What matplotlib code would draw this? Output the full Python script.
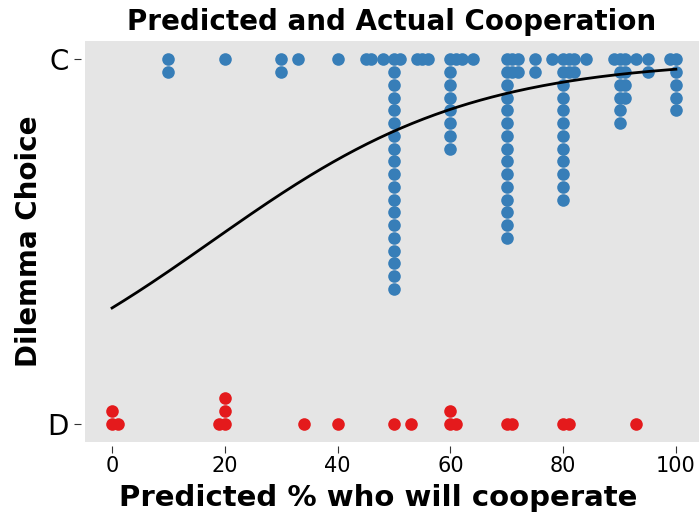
import numpy as np
import matplotlib.pyplot as plt

# predicted % cooperating, and how many people gave that guess
coop_pred = [10, 20, 30, 33, 40, 45, 46, 48, 50, 51, 54, 55, 56, 60, 61, 62, 64,
             70, 71, 72, 75, 78, 80, 81, 82, 84, 89, 90, 91, 93, 95, 99, 100]
coop_count = [2, 1, 2, 1, 1, 1, 1, 1, 19, 1, 1, 1, 1, 8, 1, 1, 1,
              15, 2, 2, 2, 1, 12, 2, 2, 1, 1, 6, 4, 1, 2, 1, 5]
defect_pred = [0, 1, 19, 20, 34, 40, 50, 53, 60, 61, 70, 71, 80, 81, 93]
defect_count = [2, 1, 1, 3, 1, 1, 1, 1, 2, 1, 1, 1, 1, 1, 1]

step = 0.035  # vertical stacking of repeated guesses

"""Expand to individual observations"""
xc, yc, xd, yd = [], [], [], []
for v, n in zip(coop_pred, coop_count):
    for k in range(n):
        xc.append(v)
        yc.append(1 - k * step)
for v, n in zip(defect_pred, defect_count):
    for k in range(n):
        xd.append(v)
        yd.append(0 + k * step)

"""Logistic regression fit (Newton-Raphson)"""
x_all = np.array(xc + xd, dtype=float)
y_all = np.array([1] * len(xc) + [0] * len(xd), dtype=float)
X = np.column_stack([np.ones_like(x_all), x_all])
beta = np.zeros(2)
for i in range(50):
    p = 1 / (1 + np.exp(-X @ beta))
    W = p * (1 - p)
    H = X.T @ (X * W[:, None])
    g = X.T @ (y_all - p)
    beta = beta + np.linalg.solve(H, g)
xs = np.linspace(0, 100, 200)
ys = 1 / (1 + np.exp(-(beta[0] + beta[1] * xs)))

"""Plot"""
fig = plt.figure(figsize=(6.99, 5.16), dpi=100)
ax = fig.add_axes([85 / 699, 1 - 442 / 516, 1 - 85 / 699, 401 / 516])
ax.set_facecolor("#e5e5e5")
ax.scatter(xc, yc, s=82, color="#377eb8", linewidths=0, zorder=2)
ax.scatter(xd, yd, s=82, color="#e41a1c", linewidths=0, zorder=2)
ax.plot(xs, ys, color="black", lw=2, zorder=3)

ax.set_xlim(-4.8, 104.1)
ax.set_ylim(-0.05, 1.05)
ax.set_yticks([0, 1])
ax.set_yticklabels(["D", "C"])
ax.set_xticks([0, 20, 40, 60, 80, 100])
ax.tick_params(axis="x", labelsize=15, length=5, color="#333333", pad=2)
ax.tick_params(axis="y", labelsize=20, length=5, color="#333333")
for side in ["left", "bottom"]:
    ax.spines[side].set_position(("outward", 3))
for s in ax.spines.values():
    s.set_visible(False)

ax.set_xlabel("Predicted % who will cooperate", fontsize=21, fontweight="bold", labelpad=6)
ax.xaxis.label.set_x(0.478)
ax.set_ylabel("Dilemma Choice", fontsize=20, fontweight="bold", labelpad=3)
ax.set_title("Predicted and Actual Cooperation", fontsize=20, fontweight="bold", pad=8)

plt.savefig("out.png", dpi=100)
